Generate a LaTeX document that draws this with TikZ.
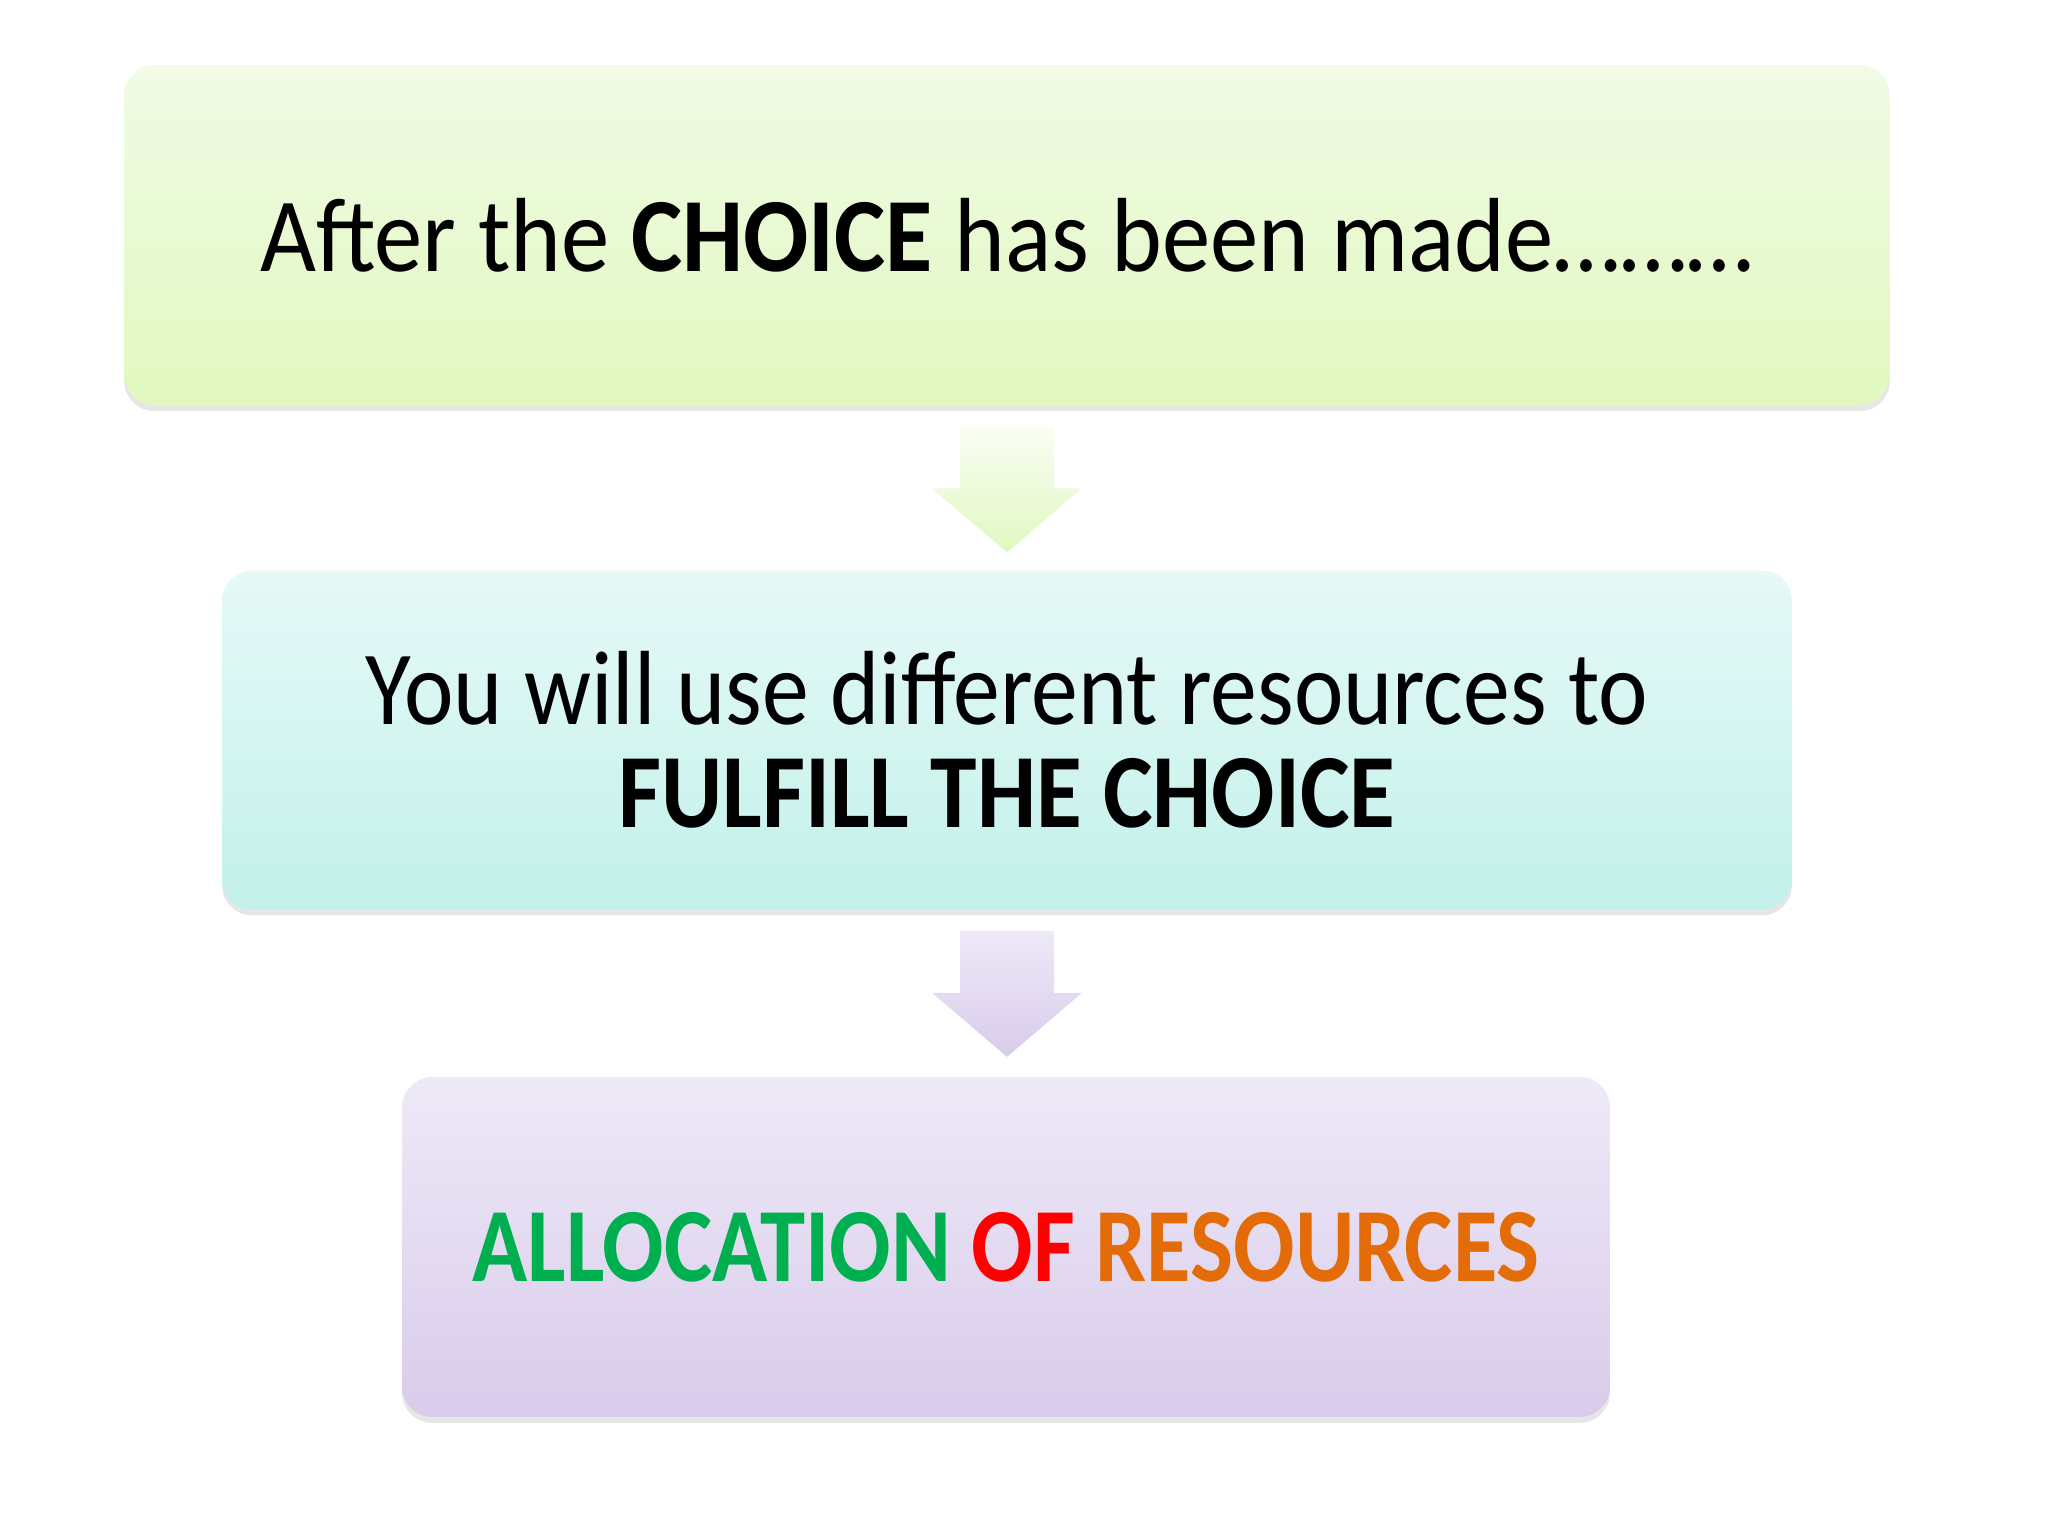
\documentclass[tikz,border=0pt]{standalone}
\usepackage{fontspec}
\setmainfont{Carlito}
\usetikzlibrary{calc,shadows}
\definecolor{greenTop}{HTML}{F1FBE6}
\definecolor{greenBot}{HTML}{E1F8BF}
\definecolor{aquaTop}{HTML}{E6F9F7}
\definecolor{aquaBot}{HTML}{C3F1EA}
\definecolor{lilacTop}{HTML}{EEE9F7}
\definecolor{lilacBot}{HTML}{D9CCEB}
\definecolor{allocGreen}{HTML}{00B050}
\definecolor{allocRed}{HTML}{FF0000}
\definecolor{allocOrange}{HTML}{E36C09}
\newcommand{\bigFont}[0]{\fontsize{60}{58.6}\selectfont}
\newcommand{\squeeze}[2]{\scalebox{#1}[1]{#2}}
% block arrow hanging below a box, #1 = anchor
\newcommand{\downArrow}[3]{%
  \shade[top color=#2, bottom color=#3]
    ($(#1)+(-47,21)$) -- ($(#1)+(47,21)$) -- ($(#1)+(47,83)$) -- ($(#1)+(75,83)$)
    -- ($(#1)+(0,147)$) -- ($(#1)+(-75,83)$) -- ($(#1)+(-47,83)$) -- cycle;}

\begin{document}
\begin{tikzpicture}[x=0.02cm, y=-0.02cm]
  \tikzset{softshadow/.style={drop shadow={shadow xshift=0pt, shadow yshift=-0.12cm, opacity=0.14, fill=black!70}},
    stepbox/.style={rounded corners=0.6cm, minimum height=6.8cm, align=center, font=\bigFont, softshadow}}
  \useasboundingbox (0,0) rectangle (2048,1536);
  \node[stepbox, minimum width=35.32cm, top color=greenTop, bottom color=greenBot]
    (choice) at (1007,235) {\squeeze{0.917}{After the \textbf{CHOICE} has been made………}};
  \node[stepbox, minimum width=31.4cm, minimum height=6.78cm, top color=aquaTop, bottom color=aquaBot]
    (fulfil) at (1007,740) {\squeeze{0.889}{You will use different resources to}\\\squeeze{0.889}{\textbf{FULFILL THE CHOICE}}};
  \node[stepbox, minimum width=24.16cm, top color=lilacTop, bottom color=lilacBot]
    (alloc) at (1006,1247) {\squeeze{0.863}{\textbf{\color{allocGreen}ALLOCATION \color{allocRed}OF \color{allocOrange}RESOURCES}}};
  \downArrow{choice.south}{white!60!greenTop}{greenBot}
  \downArrow{fulfil.south}{lilacTop}{lilacBot}
\end{tikzpicture}
\end{document}
